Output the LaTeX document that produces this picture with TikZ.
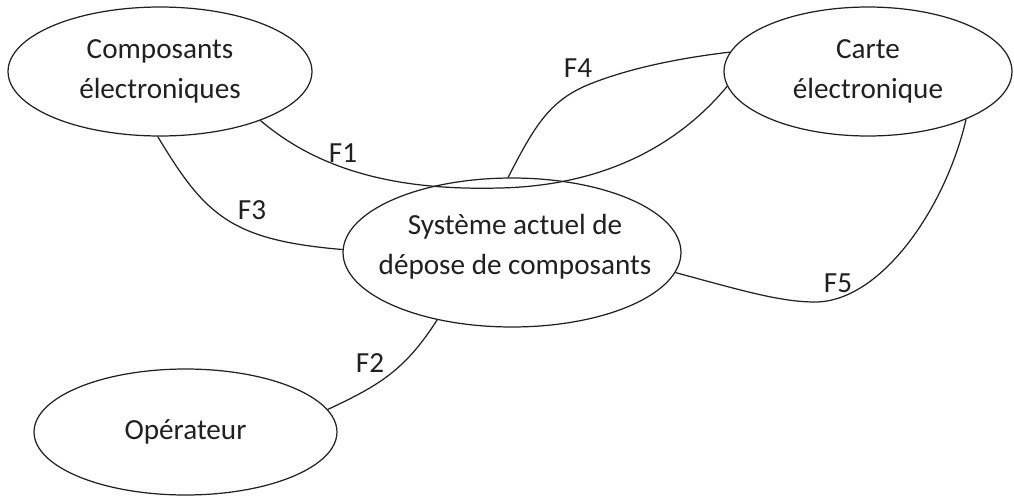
\documentclass[tikz,border=0pt]{standalone}
\usepackage{fontspec}
\setmainfont{Carlito}
\usetikzlibrary{shapes.geometric}
\definecolor{ink}{HTML}{231F20}
\begin{document}
\begin{tikzpicture}[x=0.02cm,y=-0.02cm,
  blob/.style={draw=ink,ellipse,line width=0.7pt,inner sep=0pt,align=center,text=ink,
    font=\fontsize{16.6pt}{22.7pt}\selectfont},
  link/.style={draw=ink,line width=0.7pt},
  lab/.style={text=ink,font=\fontsize{16.6pt}{22.7pt}\selectfont,inner sep=0pt,align=center}]
\useasboundingbox (0,0) rectangle (1014,497);
\node[blob,minimum width=6.08cm,minimum height=2.58cm] (comp) at (160,71.5) {Composants\\électroniques};
\node[blob,minimum width=5.76cm,minimum height=2.58cm] (carte) at (868,71.5) {Carte\\électronique};
\node[blob,minimum width=6.76cm,minimum height=2.98cm] (sys) at (512,252.5) {};
\node[lab] (systext) at (515,247) {Système actuel de\\dépose de composants};
\node[blob,minimum width=6.06cm,minimum height=2.52cm] (op) at (185.5,432) {Opérateur};
% F1
\coordinate (f1m) at (500,188);
\draw[link] (comp.-26) .. controls (330,180) and (420,190) .. (f1m)
  .. controls (590,186) and (670,155) .. (carte.186.6);
% F4
\coordinate (f4m) at (590,84);
\draw[link] (sys.93) .. controls (535,125) and (550,100) .. (f4m)
  .. controls (630,68) and (680,58) .. (carte.172.8);
% F3
\draw[link] (comp.-92) .. controls (205,215) and (230,240) .. (sys.179);
% F2
\draw[link] (op.9.2) .. controls (380,385) and (405,370) .. (sys.-138);
% F5
\coordinate (f5m) at (815,302);
\draw[link] (sys.-7.2) .. controls (740,290) and (780,302) .. (f5m)
  .. controls (880,302) and (945,210) .. (carte.-26.1);
\node[lab] (l1) at (343,153) {F1};
\node[lab] (l3) at (252,210) {F3};
\node[lab] (l4) at (578,68) {F4};
\node[lab] (l2) at (370,363) {F2};
\node[lab] (l5) at (838,283) {F5};
\end{tikzpicture}
\end{document}
